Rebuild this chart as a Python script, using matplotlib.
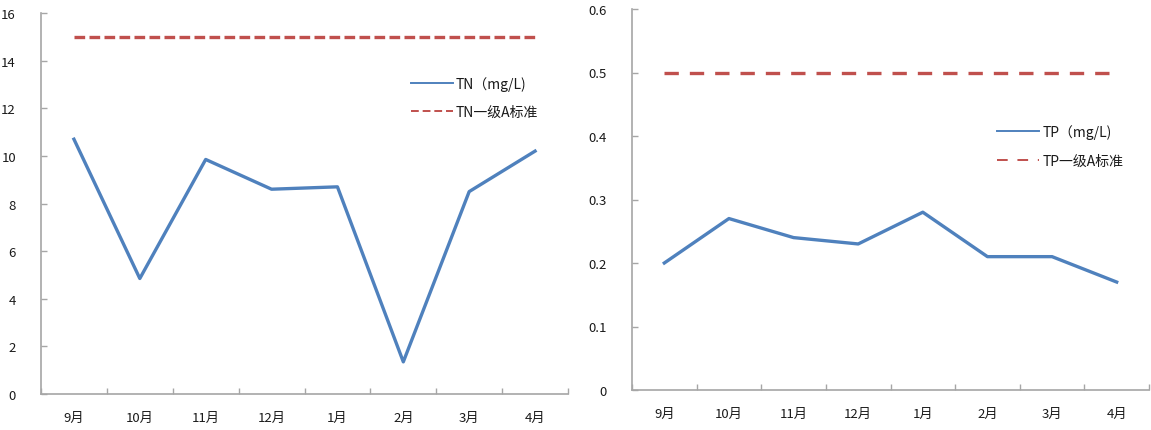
import matplotlib
matplotlib.use("Agg")
import matplotlib.pyplot as plt
from matplotlib.lines import Line2D
import numpy as np

plt.rcParams['font.family'] = ['Noto Sans CJK SC', 'DejaVu Sans']

months = ["9月", "10月", "11月", "12月", "1月", "2月", "3月", "4月"]
tn_values = [10.7, 4.85, 9.85, 8.6, 8.7, 1.35, 8.5, 10.2]
tn_standard = [15, 15, 15, 15, 15, 15, 15, 15]
tp_values = [0.20, 0.27, 0.24, 0.23, 0.28, 0.21, 0.21, 0.17]
tp_standard = [0.5, 0.5, 0.5, 0.5, 0.5, 0.5, 0.5, 0.5]
tn_labels = ["TN（mg/L)", "TN一级A标准"]
tp_labels = ["TP（mg/L)", "TP一级A标准"]

BLUE = "#4F81BD"
RED = "#C0504D"
SPINE = "#A6A6A6"
TXT = "#1a1a1a"

W, H = 1151, 431
fig = plt.figure(figsize=(W / 100, H / 100), dpi=100)

def px_axes(x0, x1, ytop, ybot):
    return fig.add_axes([x0 / W, (H - ybot) / H, (x1 - x0) / W, (ybot - ytop) / H])

ax1 = px_axes(41, 568, 14, 395)
ax2 = px_axes(632, 1149, 10, 391)

def style(ax, ymax, ystep, fmt):
    n = len(months)
    x = np.arange(n)
    ax.set_xlim(-0.5, n - 0.5)
    ax.set_ylim(0, ymax)
    ax.set_xticks(x)
    ax.set_xticklabels(months, fontweight='medium')
    ax.set_xticks(np.arange(n + 1) - 0.5, minor=True)
    ax.tick_params(axis='x', which='major', length=0, pad=12, labelsize=9.5, labelcolor=TXT)
    ax.tick_params(axis='x', which='minor', direction='in', length=4, color=SPINE, width=1)
    yt = np.arange(0, ymax + ystep / 2, ystep)
    ax.set_yticks(yt)
    ax.set_yticklabels([fmt(v) for v in yt], fontweight='medium')
    ax.tick_params(axis='y', direction='in', length=4, color=SPINE, width=1, pad=18,
                   labelsize=9.5, labelcolor=TXT)
    for s in ['top', 'right']:
        ax.spines[s].set_visible(False)
    for s in ['left', 'bottom']:
        ax.spines[s].set_color(SPINE)
        ax.spines[s].set_linewidth(1.2)
    return x

x = style(ax1, 16, 2, lambda v: f"{v:g}")
ax1.plot(x, tn_values, color=BLUE, lw=2.4)
ax1.plot(x, tn_standard, color=RED, lw=2.4, dashes=(3.2, 1.3))
h1 = [Line2D([], [], color=BLUE, lw=1.4),
      Line2D([], [], color=RED, lw=1.4, dashes=(4.0, 2.0))]
ax1.legend(h1, tn_labels, loc='upper left', bbox_to_anchor=(0.702, 0.835), frameon=False,
           fontsize=10, handlelength=3.0, handletextpad=0.25, labelspacing=1.0,
           borderpad=0, borderaxespad=0, labelcolor=TXT)

x = style(ax2, 0.6, 0.1, lambda v: f"{v:.1f}" if v > 0 else "0")
ax2.plot(x, tp_values, color=BLUE, lw=2.4)
ax2.plot(x, tp_standard, color=RED, lw=2.4, dashes=(4.3, 3.3))
h2 = [Line2D([], [], color=BLUE, lw=1.4),
      Line2D([], [], color=RED, lw=1.4, dashes=(5.5, 5.0))]
ax2.legend(h2, tp_labels, loc='upper left', bbox_to_anchor=(0.706, 0.698), frameon=False,
           fontsize=10, handlelength=3.0, handletextpad=0.25, labelspacing=1.1,
           borderpad=0, borderaxespad=0, labelcolor=TXT)

fig.savefig("out.png", dpi=100)
